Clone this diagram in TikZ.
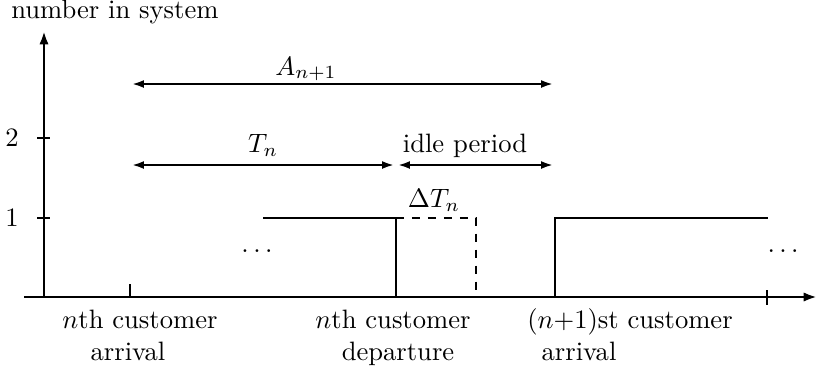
\documentclass[tikz,border=0pt]{standalone}
\usetikzlibrary{arrows.meta}
\begin{document}
\begin{tikzpicture}[x=0.3761pt,y=-0.3761pt, line width=1pt,
  axis/.style={-{Latex[length=5pt,width=3.5pt]}},
  dim/.style={{Latex[length=4.5pt,width=3pt]}-{Latex[length=4.5pt,width=3pt]}, line width=0.8pt},
  lab/.style={inner sep=0pt, anchor=base},
  ticklab/.style={inner sep=0pt, anchor=east}]
\useasboundingbox (0,0) rectangle (819,372);
% axes
\coordinate (O) at (44,297);
\coordinate (ytop) at (44,31);
\coordinate (xl) at (24,297);
\coordinate (xr) at (817,297);
\draw[axis] (O) -- (ytop);
\draw[axis] (xl) -- (xr);
\node[inner sep=0pt, anchor=base west] (ylab) at (10,18) {number in system};
% y ticks
\coordinate (t2a) at (37,138); \coordinate (t2b) at (50,138);
\coordinate (t1a) at (37,218); \coordinate (t1b) at (50,218);
\draw (t2a) -- (t2b);
\draw (t1a) -- (t1b);
\node[ticklab] (l2) at (20,138) {2};
\node[ticklab] (l1) at (20,218) {1};
% x ticks
\coordinate (ta1) at (130,284); \coordinate (ta2) at (130,297);
\draw (ta1) -- (ta2);
\coordinate (te1) at (767,290); \coordinate (te2) at (767,305);
\draw (te1) -- (te2);
% sample path
\coordinate (p1) at (263,218);
\coordinate (p2) at (396,218);
\coordinate (p3) at (396,297);
\coordinate (q1) at (476,218);
\coordinate (q2) at (476,297);
\coordinate (r1) at (555,297);
\coordinate (r2) at (555,218);
\coordinate (r3) at (768,218);
\draw (p1) -- (p2) -- (p3);
\draw[dashed] (p2) -- (q1) -- (q2);
\draw (r1) -- (r2) -- (r3);
\node[lab] (dots1) at (257,252) {$\dots$};
\node[lab] (dots2) at (783,252) {$\dots$};
\node[lab] (dT) at (434,207) {$\Delta T_n$};
% dimension arrows
\coordinate (a1) at (132,84); \coordinate (a2) at (553,84);
\draw[dim] (a1) -- (a2);
\node[lab] (An) at (306,75) {$A_{n+1}$};
\coordinate (b1) at (132,165); \coordinate (b2) at (394,165);
\coordinate (c1) at (398,165); \coordinate (c2) at (553,165);
\draw[dim] (b1) -- (b2);
\draw[dim] (c1) -- (c2);
\node[lab] (Tn) at (263,152) {$T_n$};
\node[lab] (idle) at (465,152) {idle period};
% bottom labels
\node[lab] (arrA) at (140,328) {$n$th customer};
\node[lab] (arrB) at (128,360) {arrival};
\node[lab] (depA) at (393,328) {$n$th customer};
\node[lab] (depB) at (398,360) {departure};
\node[lab] (nxtA) at (630,328) {$(n{+}1)$st customer};
\node[lab] (nxtB) at (579,360) {arrival};
\end{tikzpicture}
\end{document}
